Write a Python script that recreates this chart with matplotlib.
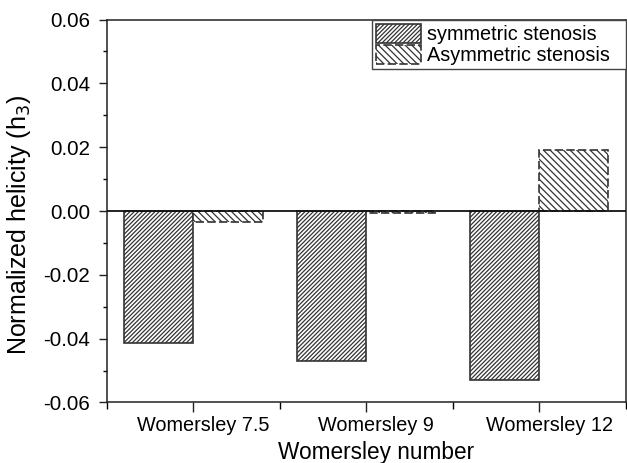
import matplotlib
matplotlib.use("Agg")
import matplotlib.pyplot as plt
import matplotlib.transforms as mtransforms
from matplotlib.ticker import MultipleLocator, FixedLocator
import numpy as np

# Helicity data per Womersley number
categories = ["Womersley 7.5", "Womersley 9", "Womersley 12"]
symmetric = [-0.0415, -0.047, -0.053]
asymmetric = [-0.0035, -0.0007, 0.019]
series_names = ["symmetric stenosis", "Asymmetric stenosis"]

plt.rcParams["font.family"] = ["Liberation Sans", "DejaVu Sans"]
plt.rcParams["hatch.linewidth"] = 0.9
plt.rcParams["hatch.color"] = "#222222"

fig = plt.figure(figsize=(6.27, 4.63), dpi=100)
ax = fig.add_axes([0.1707, 0.1307, 0.827, 0.827])

x = np.arange(1, len(categories) + 1)
w = 0.4
edge = "#333333"

ax.bar(x - w / 2, symmetric, width=w, facecolor="white", edgecolor=edge,
       linewidth=1.2, hatch="/" * 8, label=series_names[0], zorder=2)
ax.bar(x + w / 2, asymmetric, width=w, facecolor="white", edgecolor=edge,
       linewidth=1.2, linestyle=(0, (5, 2)), hatch="\\" * 5,
       label=series_names[1], zorder=2)

ax.axhline(0, color="#111111", linewidth=1.3, zorder=3)

ax.set_xlim(0.5, 3.5)
ax.set_ylim(-0.06, 0.06)
ax.yaxis.set_major_locator(MultipleLocator(0.02))
ax.yaxis.set_minor_locator(MultipleLocator(0.01))
ax.set_yticklabels([f"{v:.2f}" for v in ax.get_yticks()])
ax.xaxis.set_major_locator(FixedLocator(x))
ax.xaxis.set_minor_locator(FixedLocator([0.5, 1.5, 2.5, 3.5]))
ax.set_xticklabels(categories)

ax.tick_params(axis="both", which="major", direction="out", length=6,
               width=1.0, labelsize=14.3, color="#222222")
ax.tick_params(axis="y", which="major", labelsize=14.8, pad=6)
ax.tick_params(axis="x", which="major", pad=3, length=7)
ax.tick_params(axis="y", which="minor", direction="out", length=3, width=1.0)
ax.tick_params(axis="x", which="minor", direction="out", length=5, width=1.0)

# shift category labels slightly to the right
offset = mtransforms.ScaledTranslation(10 / 100, 0, fig.dpi_scale_trans)
for lbl in ax.get_xticklabels():
    lbl.set_transform(lbl.get_transform() + offset)

for sp in ax.spines.values():
    sp.set_linewidth(1.1)
    sp.set_color("#222222")

ax.set_xlabel("Womersley number", fontsize=16.3)
ax.xaxis.set_label_coords(0.5195, -0.1)
ax.set_ylabel("Normalized helicity (h$_3$)", fontsize=18)
ax.yaxis.set_label_coords(-0.143, 0.463)

x0 = 0.5106
leg = ax.legend(loc="upper left", bbox_to_anchor=(x0, 0.0, 1.0 - x0, 1.0),
                mode="expand", borderaxespad=0,
                fontsize=14.3, fancybox=False, framealpha=1, edgecolor="#444444",
                handlelength=2.3, handleheight=1.1, labelspacing=0.05,
                handletextpad=0.3, borderpad=0.2)
leg.get_frame().set_linewidth(1.0)

fig.savefig("out.png", dpi=100)
